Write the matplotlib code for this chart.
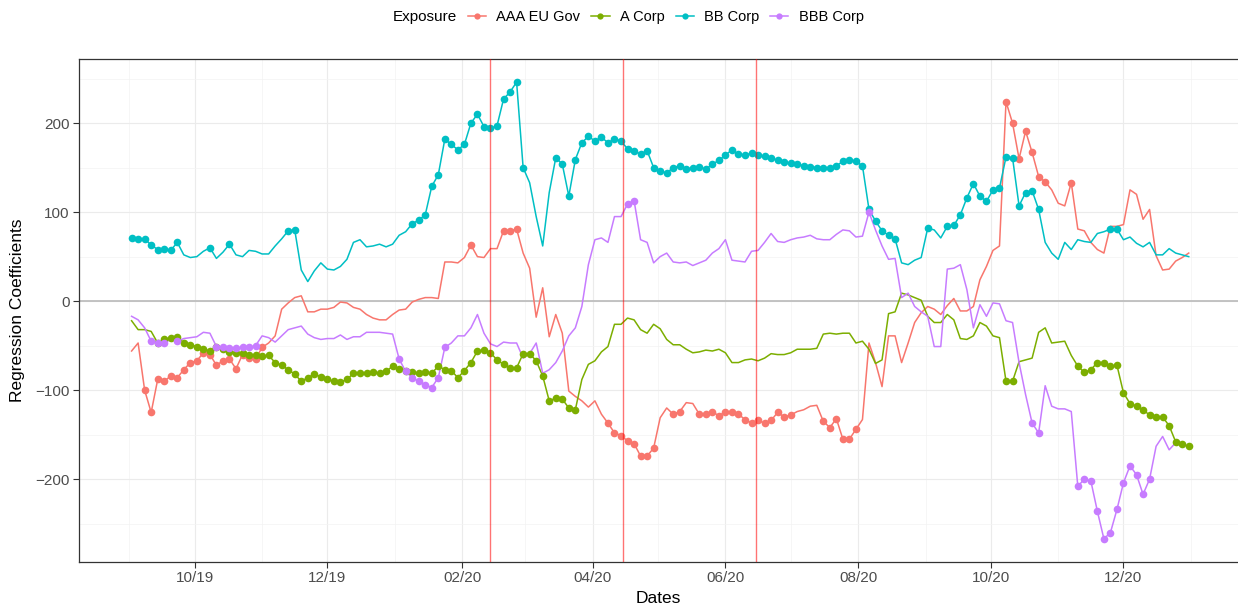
import matplotlib
matplotlib.use('Agg')
import matplotlib.pyplot as plt
import matplotlib.dates as mdates
from matplotlib.lines import Line2D
from matplotlib.ticker import MultipleLocator
import numpy as np
import pandas as pd

# observation dates (every 3rd day)
dates = pd.date_range('2019-09-02', '2020-12-31', freq='3D')

aaa_eu_gov = [
    -56, -47, -100, -125, -88, -90, -84, -86, -77, -69,
    -67, -58, -60, -72, -67, -65, -76, -60, -64, -65,
    -52, -47, -39, -9, -2, 4, 6, -12, -12, -9,
    -9, -7, -1, -2, -7, -9, -15, -19, -21, -21,
    -15, -10, -9, -1, 2, 4, 4, 3, 44, 44,
    43, 49, 63, 50, 49, 59, 59, 79, 79, 81,
    54, 37, -18, 15, -40, -15, -36, -101, -107, -112,
    -119, -112, -127, -137, -148, -151, -157, -160, -174, -174,
    -165, -131, -120, -127, -124, -114, -115, -127, -127, -124,
    -129, -124, -125, -127, -133, -137, -134, -137, -134, -125,
    -130, -128, -124, -122, -118, -117, -135, -142, -132, -155,
    -155, -144, -133, -47, -69, -96, -39, -39, -69, -47,
    -24, -13, -6, -9, -15, -5, 3, -11, -11, -6,
    24, 39, 57, 62, 224, 200, 160, 191, 167, 140,
    134, 125, 110, 107, 133, 81, 79, 66, 58, 54,
    84, 84, 86, 125, 120, 92, 103, 51, 35, 36,
    45, 49, 54]

a_corp = [
    -22, -32, -32, -34, -47, -43, -41, -40, -47, -49,
    -51, -54, -56, -51, -54, -57, -58, -58, -60, -61,
    -62, -61, -69, -72, -77, -82, -90, -86, -82, -85,
    -88, -90, -91, -88, -81, -81, -81, -80, -81, -79,
    -73, -76, -79, -80, -81, -80, -81, -73, -77, -78,
    -86, -78, -69, -56, -55, -58, -66, -71, -75, -75,
    -59, -59, -67, -84, -112, -109, -110, -120, -122, -88,
    -71, -67, -57, -51, -26, -26, -19, -21, -32, -36,
    -26, -31, -43, -49, -49, -54, -58, -57, -55, -56,
    -54, -58, -69, -69, -66, -65, -67, -64, -59, -60,
    -60, -58, -54, -54, -54, -53, -37, -36, -37, -36,
    -36, -47, -45, -54, -70, -66, -14, -12, 9, 7,
    4, 1, -17, -24, -24, -15, -21, -42, -43, -39,
    -24, -28, -39, -41, -90, -90, -68, -66, -64, -35,
    -30, -47, -46, -45, -61, -73, -80, -77, -69, -69,
    -73, -72, -103, -115, -118, -122, -128, -130, -130, -140,
    -158, -161, -163]

bb_corp = [
    71, 70, 70, 63, 58, 59, 57, 66, 52, 49,
    50, 56, 60, 48, 55, 64, 52, 50, 57, 56,
    53, 53, 62, 70, 79, 80, 35, 22, 34, 43,
    36, 35, 39, 47, 66, 69, 61, 62, 64, 61,
    64, 74, 78, 87, 91, 97, 129, 142, 182, 176,
    170, 176, 200, 210, 196, 194, 197, 227, 235, 246,
    150, 133, 95, 62, 122, 161, 154, 118, 159, 178,
    185, 180, 184, 178, 182, 180, 171, 169, 165, 169,
    150, 146, 144, 150, 152, 148, 150, 151, 148, 154,
    158, 164, 170, 165, 164, 166, 164, 163, 161, 158,
    156, 155, 154, 152, 151, 150, 150, 150, 152, 157,
    159, 157, 152, 103, 90, 79, 74, 70, 43, 41,
    46, 49, 82, 80, 71, 84, 85, 97, 116, 132,
    118, 112, 125, 127, 162, 161, 107, 122, 124, 103,
    66, 54, 47, 66, 58, 69, 67, 66, 76, 78,
    81, 81, 69, 72, 65, 61, 66, 52, 52, 59,
    54, 52, 50]

bbb_corp = [
    -17, -21, -30, -45, -47, -47, -43, -45, -42, -41,
    -40, -35, -36, -51, -52, -53, -53, -52, -52, -50,
    -39, -41, -46, -39, -32, -30, -28, -37, -41, -43,
    -42, -42, -38, -43, -40, -40, -35, -35, -35, -36,
    -37, -65, -79, -86, -90, -94, -97, -86, -52, -47,
    -39, -39, -30, -15, -36, -48, -51, -46, -47, -47,
    -64, -59, -47, -81, -77, -69, -56, -39, -30, -6,
    41, 69, 71, 66, 95, 95, 109, 113, 69, 66,
    43, 50, 54, 44, 43, 44, 40, 43, 46, 54,
    59, 69, 46, 45, 44, 56, 57, 66, 76, 67,
    66, 69, 71, 72, 74, 70, 69, 69, 75, 80,
    79, 72, 73, 100, 80, 62, 47, 48, 4, 9,
    -6, -12, -17, -51, -51, 36, 37, 41, 13, -30,
    -4, -17, -2, -3, -22, -24, -69, -105, -137, -148,
    -95, -118, -121, -121, -124, -208, -200, -202, -236, -267,
    -260, -234, -204, -185, -195, -217, -200, -163, -152, -167,
    -159, -161, -163]

# index ranges (inclusive) of observations flagged as significant
aaa_sig = [(2, 20), (52, 52), (57, 59), (73, 80), (83, 84), (87, 101),
           (106, 111), (134, 140), (144, 144)]
a_sig = [(4, 68), (134, 135), (145, 162)]
bb_sig = [(0, 7), (12, 12), (15, 15), (24, 25), (43, 60), (65, 117),
          (122, 122), (125, 139), (150, 151)]
bbb_sig = [(3, 5), (7, 7), (13, 19), (41, 48), (76, 77), (113, 113),
           (138, 139), (145, 156)]

series = ['AAA EU Gov', 'A Corp', 'BB Corp', 'BBB Corp']
values = [aaa_eu_gov, a_corp, bb_corp, bbb_corp]
sig = [aaa_sig, a_sig, bb_sig, bbb_sig]
colors = ['#F8766D', '#7CAE00', '#00BFC4', '#C77CFF']
event_dates = pd.to_datetime(['2020-02-14', '2020-04-15', '2020-06-15'])

plt.rcParams['font.family'] = ['Liberation Sans', 'DejaVu Sans']

fig = plt.figure(figsize=(12.38, 6.09), dpi=100)
ax = fig.add_axes([0.0636, 0.0777, 0.9393, 0.8249])

# lines first, then points (like geom_line + geom_point)
for vals, col in zip(values, colors):
    ax.plot(dates, vals, color=col, lw=1.1, zorder=3)
for vals, rng, col in zip(values, sig, colors):
    mask = np.zeros(len(dates), dtype=bool)
    for a, b in rng:
        mask[a:b + 1] = True
    ax.plot(dates[mask], np.array(vals)[mask], 'o', ms=5.5, color=col,
            mec='none', zorder=4)

ax.axhline(0, color='#BEBEBE', lw=1.3, zorder=2)
for d in event_dates:
    ax.axvline(d, color='red', alpha=0.55, lw=1.0, zorder=5)

# ggplot-like 5% expansion
span = dates[-1] - dates[0]
ax.set_xlim(dates[0] - span * 0.05, dates[-1] + span * 0.05)
allv = np.concatenate([np.array(v) for v in values])
yr = allv.max() - allv.min()
ax.set_ylim(allv.min() - 0.05 * yr, allv.max() + 0.05 * yr)

ax.xaxis.set_major_locator(mdates.MonthLocator(bymonth=[2, 4, 6, 8, 10, 12]))
ax.xaxis.set_minor_locator(mdates.MonthLocator(bymonth=[1, 3, 5, 7, 9, 11]))
ax.xaxis.set_major_formatter(mdates.DateFormatter('%m/%y'))
ax.yaxis.set_major_locator(MultipleLocator(100))
ax.yaxis.set_minor_locator(MultipleLocator(50))

ax.grid(which='major', color='#EBEBEB', lw=0.85, zorder=0)
ax.grid(which='minor', color='#F3F3F3', lw=0.5, zorder=0)
ax.set_axisbelow(True)

ax.tick_params(which='major', length=4, width=0.8, color='#333333',
               labelcolor='#4D4D4D', labelsize=11, pad=2.5)
ax.tick_params(which='minor', length=0)
for s in ax.spines.values():
    s.set_color('#333333')
    s.set_linewidth(0.9)

fig.text(0.5315, 0.018, 'Dates', ha='center', va='center', fontsize=12.5)
fig.text(0.0145, 0.490, 'Regression Coefficients', ha='center', va='center',
         rotation=90, fontsize=12.5)

# legend on top
fig.text(393 / 1238, 0.972, 'Exposure', ha='left', va='center', fontsize=11)
handles = [Line2D([], [], color=c, lw=1.1, marker='o', ms=4.5, mec='none')
           for c in colors]
fig.legend(handles, series, loc='center left', bbox_to_anchor=(468 / 1238, 0.972),
           ncol=4, frameon=False, fontsize=10.5, handlelength=1.25,
           handletextpad=0.7, columnspacing=0.75, borderpad=0, borderaxespad=0)

fig.savefig('out.png', dpi=100)
